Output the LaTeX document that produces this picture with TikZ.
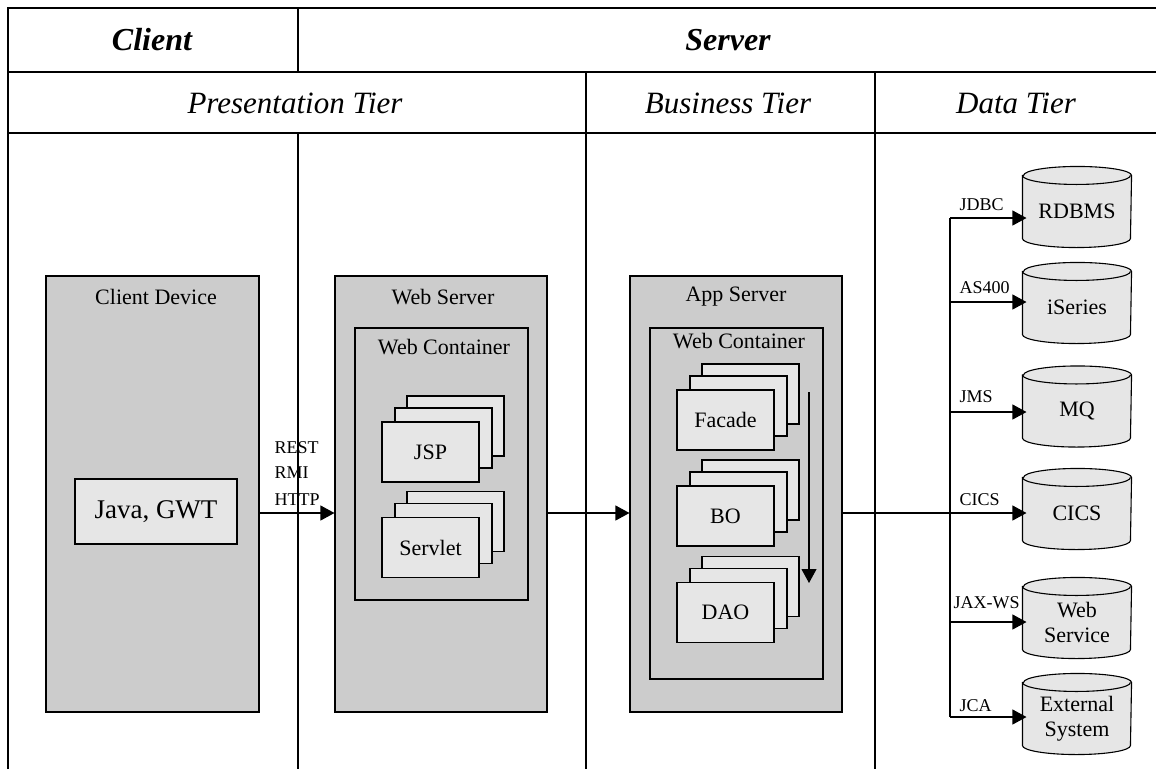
\documentclass[tikz,border=0pt]{standalone}
\usepackage{fontspec}
\setmainfont{Liberation Serif}
\usetikzlibrary{arrows.meta,calc,backgrounds}
\definecolor{boxgray}{RGB}{204,204,204}
\definecolor{pagegray}{RGB}{230,230,230}
\newcommand{\mystack}[4]{%
  \node[page] (#1c) at (#2+25,#3-26) {};
  \node[page] (#1b) at (#2+13,#3-14) {};
  \node[page] (#1) at (#2,#3) {#4};
}
\newcommand{\drawcyl}[1]{%
  \draw[line width=1.1pt, fill=pagegray] (#1.north west) -- ($(#1.south west)+(0,-9)$)
    arc[start angle=180,end angle=360,x radius=54pt,y radius=9pt]
    -- (#1.north east)
    arc[start angle=0,end angle=180,x radius=54pt,y radius=9pt] -- cycle;
  \draw[line width=1.1pt] (#1.north west) arc[start angle=180,end angle=360,x radius=54pt,y radius=9pt];
}
\begin{document}
\begin{tikzpicture}[x=1pt,y=-1pt,line width=1.1pt,
  hdr/.style={font=\fontsize{32}{38}\selectfont\bfseries\itshape},
  tier/.style={font=\fontsize{31}{36}\selectfont\itshape},
  tierbox/.style={draw, fill=boxgray, inner sep=0pt},
  boxtitle/.style={font=\fontsize{22}{26}\selectfont, inner sep=0pt},
  page/.style={draw, fill=pagegray, inner sep=0pt, minimum width=97pt, minimum height=60pt, font=\fontsize{22}{26}\selectfont},
  cyl/.style={inner sep=0pt, minimum width=108pt, minimum height=71pt, align=center, font=\fontsize{22}{25}\selectfont},
  proto/.style={font=\fontsize{18}{20}\selectfont, inner sep=0pt, anchor=base west},
  arr/.style={line width=1.1pt, -{Triangle[length=14pt,width=15pt]}},
  conn/.style={line width=1.1pt},
]
\useasboundingbox (0,0) rectangle (1156,769);

% table grid
\draw (8,769) -- (8,8) -- (1156,8);
\draw (8,72) -- (1156,72);
\draw (8,133) -- (1156,133);
\draw (298,8) -- (298,72);
\draw (298,133) -- (298,769);
\draw (586,72) -- (586,769);
\draw (875,72) -- (875,769);

% headers
\node[hdr] (hclient) at (152,40) {Client};
\node[hdr] (hserver) at (728,40) {Server};
\node[tier] (tpres) at (295,103) {Presentation Tier};
\node[tier] (tbus) at (728,103) {Business Tier};
\node[tier] (tdata) at (1016,103) {Data Tier};

% client device
\node[tierbox, minimum width=213pt, minimum height=436pt] (client) at (152.5,494) {};
\node[boxtitle] (clientT) at (156,297) {Client Device};
\node[draw, fill=pagegray, inner sep=0pt, minimum width=162pt, minimum height=65pt, font=\fontsize{27}{30}\selectfont] (java) at (156,511.5) {Java, GWT};

% web server
\node[tierbox, minimum width=212pt, minimum height=436pt] (websrv) at (441,494) {};
\node[boxtitle] (websrvT) at (443,297) {Web Server};
\node[tierbox, minimum width=173pt, minimum height=272pt] (webcont) at (441.5,464) {};
\node[boxtitle] (webcontT) at (444,347) {Web Container};
\mystack{jsp}{430.5}{452}{JSP}
\mystack{servlet}{430.5}{547.5}{Servlet}

% app server
\node[tierbox, minimum width=212pt, minimum height=436pt] (appsrv) at (736,494) {};
\node[boxtitle] (appsrvT) at (736,297) {App Server};
\node[tierbox, minimum width=173pt, minimum height=351pt] (appcont) at (736.5,503.5) {};
\node[boxtitle] (appcontT) at (739,341) {Web Container};
\mystack{facade}{725.5}{420}{Facade}
\mystack{bo}{725.5}{516}{BO}
\mystack{dao}{725.5}{612.5}{DAO}
\coordinate (flowtop) at (809,392);
\coordinate (flowbot) at (809,583);
\draw[arr] (flowtop) -- (flowbot);

% main flow
\coordinate (m) at (0,513);
\draw[arr] (client.east |- m) -- (websrv.west |- m);
\draw[arr] (websrv.east |- m) -- (appsrv.west |- m);
\node[proto] (lrest) at (274,453) {REST};
\node[proto] (lrmi) at (274,478) {RMI};
\node[proto] (lhttp) at (274,505) {HTTP};

% data tier
\node[cyl] (rdbms) at (1077,211.5) {RDBMS};
\node[cyl] (iseries) at (1077,307.5) {iSeries};
\node[cyl] (mq) at (1077,411) {MQ};
\node[cyl] (cics) at (1077,513.5) {CICS};
\node[cyl] (ws) at (1077,622.5) {Web\\Service};
\node[cyl] (ext) at (1077,718.5) {External\\System};

\coordinate (t1) at (950,218);
\coordinate (t2) at (950,302);
\coordinate (t3) at (950,412);
\coordinate (t4) at (950,513);
\coordinate (t5) at (950,622);
\coordinate (t6) at (950,717);
\draw[conn] (t1) -- (t6);
\draw[conn] (appsrv.east |- m) -- (t4);
\draw[arr] (t1) -- ([xshift=4pt]rdbms.west |- t1);
\draw[arr] (t2) -- ([xshift=4pt]iseries.west |- t2);
\draw[arr] (t3) -- ([xshift=4pt]mq.west |- t3);
\draw[arr] (t4) -- ([xshift=4pt]cics.west |- t4);
\draw[arr] (t5) -- ([xshift=4pt]ws.west |- t5);
\draw[arr] (t6) -- ([xshift=4pt]ext.west |- t6);
\node[proto] (ljdbc) at (959,210) {JDBC};
\node[proto] (las) at (959,293) {AS400};
\node[proto] (ljms) at (959,402) {JMS};
\node[proto] (lcics) at (959,505) {CICS};
\node[proto] (ljax) at (953,608) {JAX-WS};
\node[proto] (ljca) at (959,711) {JCA};

\begin{pgfonlayer}{background}
\fill[white] (0,0) rectangle (1156,769);
\drawcyl{rdbms}
\drawcyl{iseries}
\drawcyl{mq}
\drawcyl{cics}
\drawcyl{ws}
\drawcyl{ext}
\end{pgfonlayer}
\end{tikzpicture}
\end{document}
